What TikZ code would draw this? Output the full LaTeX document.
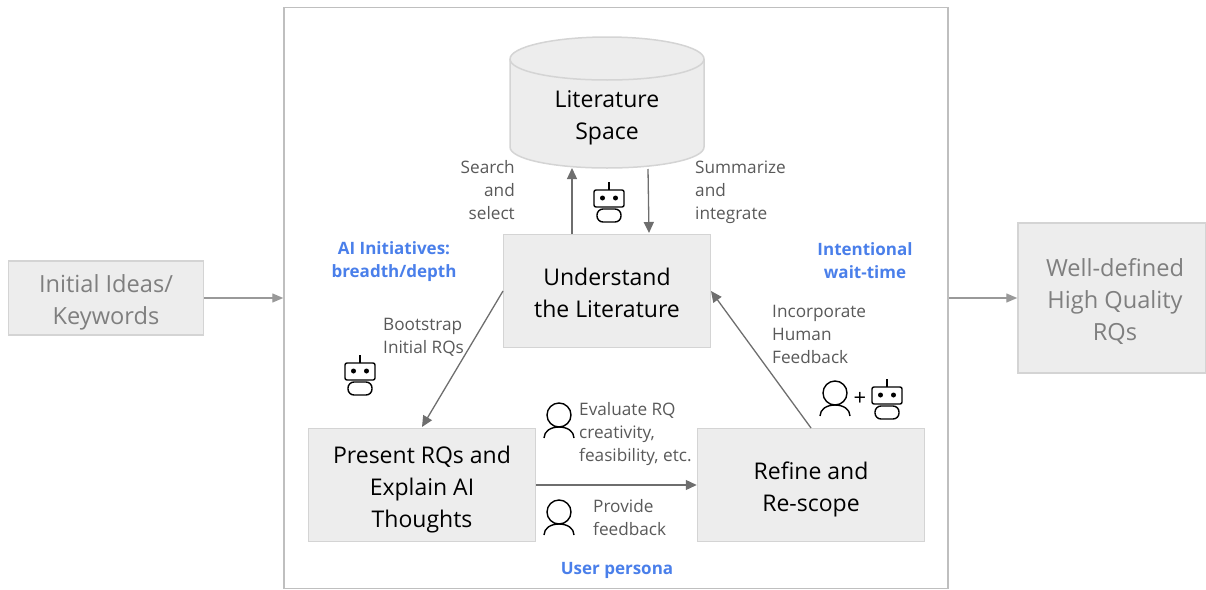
\documentclass[tikz,border=0pt]{standalone}
\usepackage{fontspec}
\setmainfont{Open Sans}
\usetikzlibrary{arrows.meta}
\definecolor{boxfill}{HTML}{EDEDED}
\definecolor{boxline}{HTML}{D4D4D4}
\definecolor{frameline}{HTML}{BFBFBF}
\definecolor{arrowc}{HTML}{6E6E6E}
\definecolor{labelc}{HTML}{595959}
\definecolor{bluec}{HTML}{4A7FEA}
\definecolor{greytxt}{HTML}{7F7F7F}
\newcommand\dn[1]{\rule{0pt}{#1pt}}
\newcommand\rt{\hspace*{6pt}}
\tikzset{
  x=1pt,y=-1pt,
  box/.style={draw=boxline,fill=boxfill,line width=1.5pt,minimum width=#1,align=center,inner sep=0pt,text=black,font=\fontsize{23}{32}\selectfont},
  gbox/.style={box=#1,text=greytxt,font=\fontsize{23.6}{32}\selectfont},
  lab/.style={text=labelc,font=\fontsize{17.2}{23}\selectfont,inner sep=0pt},
  blue lab/.style={text=bluec,font=\fontsize{17}{23}\selectfont\bfseries,align=center,inner sep=0pt},
  conn/.style={draw=arrowc,line width=1.3pt,-{Triangle[length=11pt,width=10pt]}},
  conn light/.style={draw=frameline!80!black,line width=1.3pt,-{Triangle[length=11pt,width=9pt]}},
  icon/.style={draw=black,line width=1.4pt,fill=none},
  robot/.pic={
    \draw[icon,rounded corners=2pt] (-15,-10) rectangle (15,7);
    \draw[black,line width=2.6pt] (0,-18) -- (0,-10);
    \fill[black] (-6.5,-2) circle (2.5) (6.5,-2) circle (2.5);
    \draw[icon,rounded corners=6pt] (-12,9) rectangle (12,22);
  },
  person/.pic={
    \draw[icon] (0,0) circle (12);
    \draw[icon] (-15,23) .. controls (-15,16) and (-8,12) .. (0,12) .. controls (8,12) and (15,16) .. (15,23);
  }
}
\begin{document}
\begin{tikzpicture}
\useasboundingbox (0,0) rectangle (1206,589);
% frame
\node[draw=frameline,line width=1.5pt,minimum width=664,minimum height=581,inner sep=0pt] (frame) at (616,298) {};
% outer boxes
\node[gbox=195,minimum height=74] (ideas) at (106,298) {\dn{27}Initial Ideas/\\Keywords};
\node[gbox=188,minimum height=150] (out) at (1112,298) {\dn{25}\rt Well-defined\\\rt High Quality\\\rt RQs};
% cylinder
\filldraw[draw=boxline,fill=boxfill,line width=1.5pt]
  (510,59) .. controls (510,47) and (553,37) .. (607,37)
           .. controls (661,37) and (704,47) .. (704,59)
  -- (704,147) .. controls (704,159) and (661,168) .. (607,168)
           .. controls (553,168) and (510,159) .. (510,147) -- cycle;
\draw[boxline,line width=1.5pt]
  (510,59) .. controls (510,71) and (553,80) .. (607,80)
           .. controls (661,80) and (704,71) .. (704,59);
\node[align=center,inner sep=0pt,font=\fontsize{23}{32}\selectfont] (space) at (607,118) {Literature\\Space};
% main boxes
\node[box=207,minimum height=113] (understand) at (607,291) {\dn{21}Understand\\the Literature};
\node[box=227,minimum height=113] (present) at (422,485) {\dn{27}Present RQs and\\Explain AI\\Thoughts};
\node[box=227,minimum height=113] (refine) at (811,485) {\dn{27}Refine and\\Re-scope};
% connectors
\coordinate (s1) at (572,234); \coordinate (s2) at (572,168);
\coordinate (d1) at (648,169); \coordinate (d2) at (649,233);
\draw[conn] (s1) -- (s2);
\draw[conn] (d1) -- (d2);
\coordinate (b1) at (503,291); \coordinate (b2) at (422,427);
\draw[conn] (b1) -- (b2);
\coordinate (r1) at (811,428); \coordinate (r2) at (711,291);
\draw[conn] (r1) -- (r2);
\draw[conn] (present.east) -- (refine.west);
\draw[conn light] (ideas.east) -- (frame.west);
\draw[conn light] (frame.east) -- (out.west);
% labels
\node[lab,align=right,anchor=east] (search) at (515,190) {Search\\and\\select};
\node[lab,align=left,anchor=west] (summ) at (695,192) {Summarize\\and\\integrate};
\node[lab,align=left,anchor=west] (boot) at (383,337) {Bootstrap\\Initial RQs};
\node[lab,align=left,anchor=west] (inc) at (772,334) {Incorporate\\Human\\Feedback};
\node[lab,align=left,anchor=west] (eval) at (579,434) {Evaluate RQ\\creativity,\\feasibility, etc.};
\node[lab,align=left,anchor=west] (fb) at (593,518) {Provide\\feedback};
\node[blue lab] (ai) at (394,262) {AI Initiatives:\\breadth/depth};
\node[blue lab] (wait) at (865,261) {Intentional\\wait-time};
\node[blue lab] (persona) at (617,570) {User persona};
\node[inner sep=0pt,text=black,font=\fontsize{22}{22}\selectfont] (plus) at (860,399) {+};
% icons
\path (609,200) pic {robot};
\path (360,373) pic {robot};
\path (887,397) pic {robot};
\path (559,415) pic {person};
\path (559,512) pic {person};
\path (835,393) pic {person};
\end{tikzpicture}
\end{document}
